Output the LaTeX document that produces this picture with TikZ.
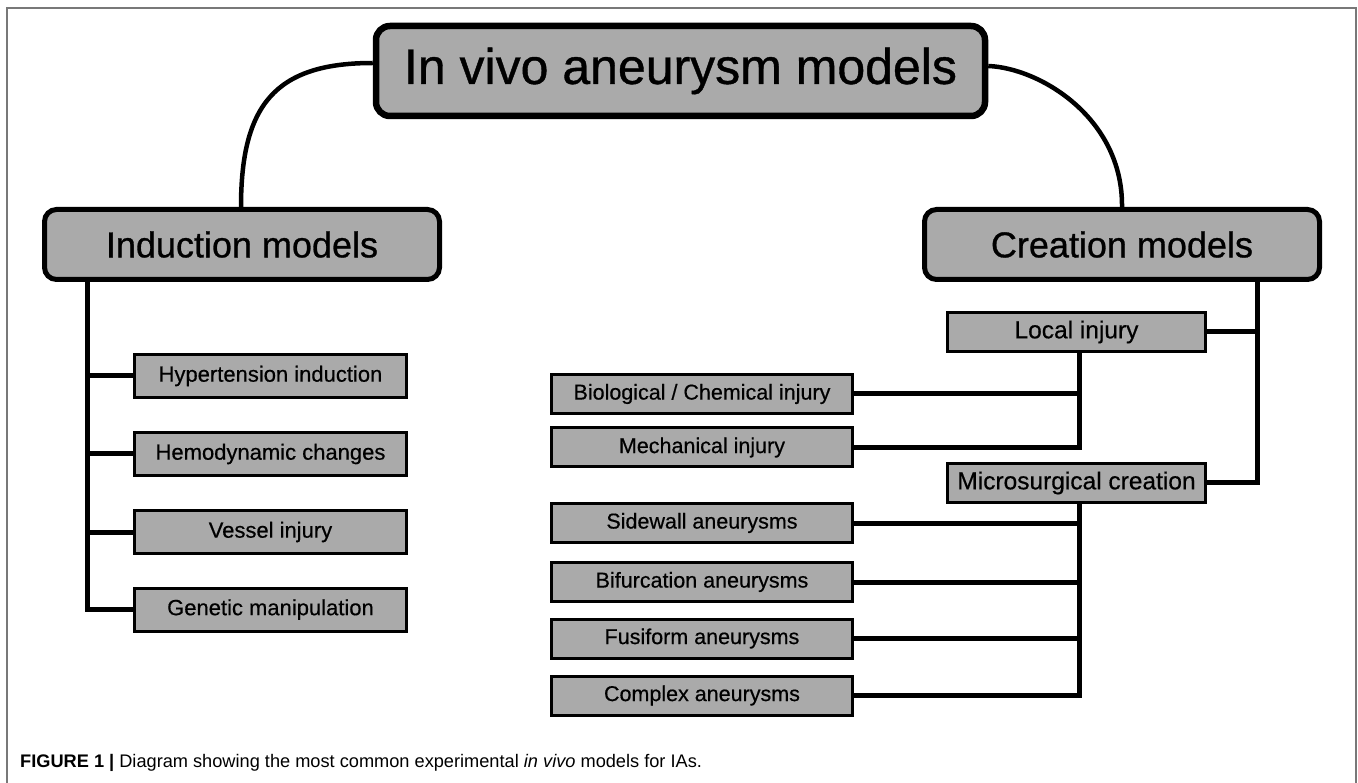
\documentclass[tikz,border=0pt]{standalone}
\usepackage{fontspec}
\setmainfont{Liberation Sans}
\newfontfamily\heavyfont[FakeBold=0.8]{Liberation Sans}
\newfontfamily\medfont[FakeBold=0.5]{Liberation Sans}
\usetikzlibrary{calc}
\definecolor{boxgray}{RGB}{170,170,170}
\definecolor{framegray}{RGB}{120,120,120}
\begin{document}
\begin{tikzpicture}[x=1pt,y=-1pt,
  topbox/.style={draw, fill=boxgray, line width=6.5pt, rounded corners=14pt, minimum width=609pt, minimum height=90pt, inner sep=0pt, font=\heavyfont\fontsize{50}{60}\selectfont},
  midbox/.style={draw, fill=boxgray, line width=5pt, rounded corners=12pt, minimum width=395pt, minimum height=70pt, inner sep=0pt, font=\heavyfont\fontsize{36}{43}\selectfont},
  leafbox/.style={draw, fill=boxgray, line width=3pt, minimum width=272pt, minimum height=43pt, inner sep=0pt, font=\medfont\fontsize{22}{26}\selectfont},
  rleaf/.style={draw, fill=boxgray, line width=3pt, minimum width=301pt, minimum height=39pt, inner sep=0pt, font=\medfont\fontsize{21.5}{26}\selectfont},
  subbox/.style={draw, fill=boxgray, line width=3pt, minimum width=258pt, minimum height=39pt, inner sep=0pt, font=\medfont\fontsize{24.5}{29}\selectfont},
  curve/.style={line width=4.5pt},
  tree/.style={line width=5pt},
  frame/.style={draw=framegray, line width=1.5pt}
]
\useasboundingbox (0,0) rectangle (1358,783);
\draw[frame] (7,783) -- (7,8) -- (1356,8) -- (1356,783);

\node[topbox] (top) at (680.5,71) {In vivo aneurysm models};
\node[midbox] (ind) at (242,244.5) {Induction models};
\node[midbox] (cre) at (1122,244.5) {Creation models};

\node[leafbox] (hyp) at (270.5,376) {Hypertension induction};
\node[leafbox] (hem) at (270.5,454) {Hemodynamic changes};
\node[leafbox] (ves) at (270.5,532) {Vessel injury};
\node[leafbox] (gen) at (270.5,609.5) {Genetic manipulation};

\node[subbox] (loc) at (1076.5,332) {Local injury};
\node[subbox] (mic) at (1076.5,483) {Microsurgical creation};

\node[rleaf] (bio) at (702,394) {Biological / Chemical injury};
\node[rleaf] (mec) at (702,447.5) {Mechanical injury};
\node[rleaf] (sid) at (702,523) {Sidewall aneurysms};
\node[rleaf] (bif) at (702,582) {Bifurcation aneurysms};
\node[rleaf] (fus) at (702,638.5) {Fusiform aneurysms};
\node[rleaf] (com) at (702,695.5) {Complex aneurysms};

% curves from the title
\draw[curve] ($(top.west)+(0,-8)$) .. controls (275,63) and (241,105) .. (ind.north -| 241,0);
\draw[curve] ($(top.east)+(0,-5)$) .. controls (1040,68) and (1123,118) .. (cre.north);

% induction tree
\coordinate (iL) at (87,0);
\draw[tree] (ind.south -| iL) |- (gen.west);
\foreach \n in {hyp,hem,ves} \draw[tree] (\n.west -| iL) -- (\n.west);

% creation tree
\coordinate (cR) at (1257,0);
\draw[tree] (cre.south -| cR) |- (mic.east);
\draw[tree] (loc.east -| cR) -- (loc.east);

% local injury tree
\coordinate (lX) at (1079,0);
\draw[tree] (loc.south -| lX) |- (mec.east);
\draw[tree] (bio.east -| lX) -- (bio.east);

% microsurgical tree
\draw[tree] (mic.south -| lX) |- (com.east);
\foreach \n in {sid,bif,fus} \draw[tree] (\n.east -| lX) -- (\n.east);

\node[anchor=base west, font=\fontsize{18.2}{22}\selectfont, inner sep=0pt] (cap) at (20,767)
  {\textbf{FIGURE 1 |} Diagram showing the most common experimental \textit{in vivo} models for IAs.};
\end{tikzpicture}
\end{document}
